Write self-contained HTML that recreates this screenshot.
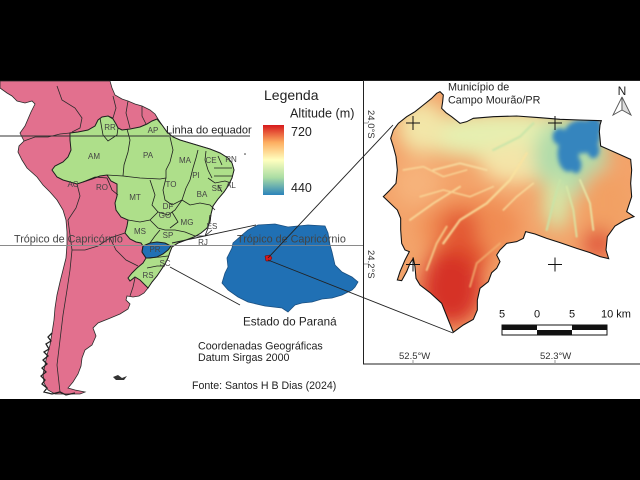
<!DOCTYPE html>
<html><head><meta charset="utf-8"><style>
html,body{margin:0;padding:0;background:#000;}
svg{display:block;}
text{font-family:"Liberation Sans",Arial,sans-serif;}
</style></head><body>
<svg width="640" height="480" viewBox="0 0 640 480" xmlns="http://www.w3.org/2000/svg">
<defs>
 <linearGradient id="leg" x1="0" y1="0" x2="0" y2="1">
  <stop offset="0" stop-color="#d7191c"/>
  <stop offset="0.25" stop-color="#fdae61"/>
  <stop offset="0.5" stop-color="#ffffbf"/>
  <stop offset="0.75" stop-color="#abdda4"/>
  <stop offset="1" stop-color="#2b83ba"/>
 </linearGradient>
 <clipPath id="mclip"><polygon points="240,65 250,75 248,95 245,115 258,128 275,140 300,160 320,155 340,145 400,140 470,138 540,143 600,148 660,150 724,152 720,165 718,185 720,205 722,228 760,245 812,268 815,300 812,340 815,380 805,410 800,425 822,440 795,450 765,468 742,500 738,540 746,566 720,560 690,548 650,535 600,518 560,505 525,492 497,485 490,505 470,515 440,520 420,540 410,555 420,575 410,595 395,608 385,635 360,655 352,690 352,720 340,748 310,765 280,787 265,750 245,700 210,668 180,645 168,625 165,590 160,565 150,580 140,605 125,632 112,630 120,605 135,570 148,545 135,540 125,520 122,480 122,445 112,420 70,380 90,360 108,340 112,300 108,260 100,230 92,205 100,180 115,160 140,140 165,125 190,105 215,85 230,70"/></clipPath>
 <filter id="bl" x="-50%" y="-50%" width="200%" height="200%"><feGaussianBlur stdDeviation="28"/></filter>
 <filter id="bl2" x="-30%" y="-30%" width="160%" height="160%"><feGaussianBlur stdDeviation="6"/></filter>
 <filter id="bl3" x="-20%" y="-20%" width="140%" height="140%"><feGaussianBlur stdDeviation="2.5"/></filter>
</defs>
<rect width="640" height="480" fill="#000"/>
<rect x="0" y="81" width="640" height="318" fill="#fff"/>

<!-- ================= LEFT MAP ================= -->
<polygon fill="#e2708e" stroke="#2a2a2a" stroke-width="0.8" points="0,81 55,81 110,81 112,88 115,95 122,99 128,101 135,104 142,106 150,110 155,114 158,119 162,125 167,132 173,137 180,140 190,143 200,146 210,149 220,153 228,158 232,163 234,170 232,178 228,186 224,192 218,199 213,206 211,214 210,222 207,228 201,233 194,237 186,240 178,243 172,247 170,252 168,258 165,264 161,270 157,276 152,282 148,288 144,293 139,296 133,297 127,296 126,300 130,304 128,309 120,314 108,319 98,323 93,328 96,336 92,345 85,350 82,358 81,366 78,374 73,382 68,388 75,390 85,392 80,394 65,394 55,394 48,390 44,383 43,374 45,365 47,355 50,345 52,333 54,320 55,308 57,295 60,282 63,270 66,258 67,245 67,232 66,220 63,210 57,200 50,192 43,185 37,177 27,168 22,160 18,152 19,146 24,141 20,133 25,126 28,119 31,112 35,104 32,101 25,103 17,101 12,96 7,93 0,88"/>
<g fill="none" stroke="#2a2a2a" stroke-width="0.8">
 <path d="M57,86 L62,100 L75,108 L82,118 L80,128 L72,132"/>
 <path d="M113,96 L116,108 L113,118 L108,116"/>
 <path d="M128,101 L126,113 L130,128"/>
 <path d="M142,106 L142,116 L146,124"/>
 <path d="M24,141 L35,137 L48,137 L60,134 L70,133"/>
 <path d="M77,184 L80,196 L76,208 L68,220"/>
 <path d="M68,220 L70,235 L72,250"/>
 <path d="M72,250 L85,250 L98,246 L110,238 L125,233"/>
 <path d="M110,238 L116,250 L126,260 L138,266"/>
 <path d="M72,250 L70,270 L67,290 L63,315 L60,340 L57,365 L60,392"/>
 <path d="M135,278 L133,287 L130,296"/>
</g>
<path d="M52,333 L48,337 L51,341 L46,344 L49,349 L44,352 L48,356 L43,360 L47,364 L42,368 L46,372 L41,376 L45,380 L42,384 L47,388 L44,392 L52,394 L60,392 L66,395 L75,393" fill="none" stroke="#222" stroke-width="1.3"/>
<path d="M113,377 L118,375 L122,378 L127,376 L124,380 L116,380 Z" fill="#333"/>
<polygon fill="#aedf8a" stroke="#1e1e1e" stroke-width="1" points="162,125 167,132 173,137 180,140 190,143 200,146 210,149 220,153 228,158 232,163 234,170 232,178 228,186 224,192 218,199 213,206 211,214 210,222 207,228 201,233 194,237 186,240 178,243 172,247 170,252 168,258 165,264 161,270 157,276 152,282 148,288 145,285 140,280 135,277 130,281 128,278 132,273 137,268 143,263 146,258 142,252 143,246 141,243 136,242 130,239 125,233 127,226 128,220 121,217 116,210 115,203 117,196 117,184 111,181 107,175 100,176 92,179 83,182 77,184 70,182 63,180 57,177 52,170 55,166 63,162 68,157 71,150 70,140 70,133 78,132 88,130 95,126 98,120 102,117 108,116 113,119 116,124 118,128 122,130 130,129 140,127 147,124 152,121 157,119"/>
<polygon fill="#2070b4" stroke="#1e1e1e" stroke-width="1" points="143,246 150,243 157,242 165,243 171,246 168,250 163,254 157,257 150,258 146,258 142,252"/>
<g fill="none" stroke="#1e1e1e" stroke-width="0.8">
 <path d="M127,129 L130,140 L128,152 L124,165 L123,176"/>
 <path d="M107,175 L123,176 L140,178 L160,179 L166,178"/>
 <path d="M170,137 L173,150 L170,162 L166,170 L166,178"/>
 <path d="M198,150 L196,158 L193,168 L190,180 L186,188"/>
 <path d="M206,151 L205,160 L208,170 L212,178"/>
 <path d="M218,156 L222,165 M214,168 L232,168 M214,176 L233,176"/>
 <path d="M208,178 L215,183 L225,181 L231,183 M218,185 L222,192"/>
 <path d="M166,178 L163,190 L165,200 L172,205 L182,200 L186,188"/>
 <path d="M182,200 L190,205 L200,203 L210,205 L215,210"/>
 <path d="M150,180 L155,195 L152,205 L158,212 L150,220 L140,222 L128,220"/>
 <path d="M158,212 L168,215 L175,210 L182,200 M172,212 L178,222 L170,228"/>
 <path d="M150,220 L158,228 L165,230 L175,230 L185,232 L195,236 L205,236 L212,230"/>
 <path d="M160,230 L155,236 L150,243"/>
 <path d="M210,215 L208,228 L205,236"/>
 <path d="M83,182 L95,177 L107,178 L112,190 L118,195"/>
 <path d="M100,118 L103,135 L108,141 L117,135 L118,128"/>
 <path d="M146,258 L160,257 L168,256 M147,268 L157,266 L165,266"/>
</g>
<g font-size="8" fill="#444" text-anchor="middle">
 <text x="110" y="130">RR</text><text x="153" y="133">AP</text>
 <text x="94" y="159">AM</text><text x="148" y="158">PA</text>
 <text x="185" y="163">MA</text><text x="211" y="163">CE</text>
 <text x="231" y="162">RN</text><text x="196" y="178">PI</text>
 <text x="171" y="187">TO</text><text x="202" y="197">BA</text>
 <text x="73" y="187">AC</text><text x="102" y="190">RO</text>
 <text x="135" y="200">MT</text><text x="168" y="209">DF</text>
 <text x="165" y="218">GO</text><text x="187" y="225">MG</text>
 <text x="212" y="229">ES</text><text x="140" y="234">MS</text>
 <text x="168" y="238">SP</text><text x="155" y="252">PR</text>
 <text x="165" y="266">SC</text><text x="148" y="278">RS</text>
 <text x="217" y="191">SE</text><text x="231" y="188">AL</text>
 <text x="203" y="245">RJ</text>
</g>

<line x1="0" y1="136" x2="250" y2="136" stroke="#333" stroke-width="1"/>
<text x="166" y="133.5" font-size="11" fill="#222">Linha do equador</text>
<line x1="0" y1="245.5" x2="363" y2="245.5" stroke="#8a8a8a" stroke-width="1"/>
<text x="14" y="242.5" font-size="10.8" fill="#444">Trópico de Capricórnio</text>
<circle cx="245" cy="154" r="0.8" fill="#333"/>

<line x1="172" y1="243" x2="256" y2="225" stroke="#222" stroke-width="0.9"/>
<line x1="170" y1="267" x2="240" y2="305" stroke="#222" stroke-width="0.9"/>

<!-- ================= PARANA ================= -->
<polygon fill="#2070b4" stroke="#1a4f80" stroke-width="0.8" points="248,230 258,225 275,224 288,227 308,225 325,226 328,233 330,245 332,252 335,265 342,272 348,275 352,277 358,282 355,287 352,290 348,292 342,295 332,298 322,299 312,302 302,303 295,305 288,312 282,308 265,306 248,302 238,297 228,290 222,283 225,273 228,267 227,258 232,248 233,243 242,235"/>
<line x1="0" y1="245.5" x2="363" y2="245.5" stroke="#8a8a8a" stroke-width="1" opacity="0.7"/>
<text x="237" y="242.5" font-size="10.8" fill="#444">Trópico de Capricórnio</text>
<path d="M265,256 L270,255 L272,258 L270,261 L266,261 Z" fill="#d7191c" stroke="#600" stroke-width="0.5"/>
<line x1="268" y1="258" x2="393" y2="125" stroke="#222" stroke-width="0.9"/>
<line x1="268" y1="260" x2="453" y2="333" stroke="#222" stroke-width="0.9"/>
<text x="243" y="325.7" font-size="11.7" fill="#222">Estado do Paraná</text>

<text x="198" y="349.5" font-size="10.7" fill="#222">Coordenadas Geográficas</text>
<text x="198" y="361" font-size="10.7" fill="#222">Datum Sirgas 2000</text>
<text x="192" y="389" font-size="10.6" fill="#222">Fonte: Santos H B Dias (2024)</text>

<!-- ================= LEGEND ================= -->
<text x="264" y="100" font-size="14" fill="#222">Legenda</text>
<text x="290" y="117.5" font-size="12.6" fill="#222">Altitude (m)</text>
<rect x="263" y="125" width="21" height="70" fill="url(#leg)"/>
<text x="291" y="136" font-size="12.5" fill="#222">720</text>
<text x="291" y="192" font-size="12.5" fill="#222">440</text>

<!-- ================= RIGHT PANEL ================= -->
<rect x="363.5" y="80.5" width="280" height="283.5" fill="none" stroke="#222" stroke-width="1"/>
<text x="448" y="90.7" font-size="10.8" fill="#222">Município de</text>
<text x="448" y="103.3" font-size="10.8" fill="#222">Campo Mourão/PR</text>

<g transform="translate(360 70) scale(0.33333)">
 <g clip-path="url(#mclip)">
  <rect x="50" y="50" width="800" height="760" fill="#f3a36a"/>
  <g filter="url(#bl)">
   <ellipse cx="440" cy="195" rx="300" ry="70" fill="#e6efb0"/>
   <ellipse cx="185" cy="170" rx="70" ry="80" fill="#f2e6a8"/>
   <ellipse cx="170" cy="340" rx="70" ry="70" fill="#f6b27a"/>
   <ellipse cx="470" cy="280" rx="110" ry="60" fill="#f4e4a8"/>
   <ellipse cx="630" cy="260" rx="110" ry="120" fill="#b0dcaa"/>
   <ellipse cx="590" cy="400" rx="40" ry="80" fill="#d4e8a8"/>
   <ellipse cx="730" cy="400" rx="70" ry="100" fill="#f2a064"/>
   <ellipse cx="330" cy="470" rx="150" ry="90" fill="#f08c52"/>
   <ellipse cx="300" cy="470" rx="60" ry="50" fill="#e35a36"/>
   <ellipse cx="300" cy="560" rx="90" ry="55" fill="#e2532f"/>
   <ellipse cx="275" cy="655" rx="90" ry="110" fill="#d63228"/>
   <ellipse cx="715" cy="520" rx="45" ry="45" fill="#e0553a"/>
  </g>
  <g filter="url(#bl3)" fill="none" stroke-linecap="round" opacity="0.8">
   <path d="M250,520 L300,450 L380,400 L450,330 L500,250" stroke="#f9e3a0" stroke-width="7"/>
   <path d="M200,600 L230,520 L260,470" stroke="#f7d590" stroke-width="6"/>
   <path d="M330,650 L350,580 L420,520" stroke="#f2b070" stroke-width="6"/>
   <path d="M150,450 L220,400 L300,350" stroke="#f9e0a0" stroke-width="6"/>
   <path d="M130,300 L190,290 L250,320 L320,300" stroke="#f9dc9c" stroke-width="5"/>
   <path d="M180,380 L250,360 L330,380 L400,350" stroke="#f9dc9c" stroke-width="5"/>
   <path d="M560,480 L580,400 L600,330" stroke="#c8e4a8" stroke-width="7"/>
   <path d="M650,500 L640,420 L620,350" stroke="#d8eaa8" stroke-width="6"/>
   <path d="M700,480 L690,400 L660,330" stroke="#e8eeae" stroke-width="6"/>
   <path d="M400,240 L480,200 L520,160" stroke="#c6e4a8" stroke-width="7"/>
   <path d="M220,300 L300,280 L380,300" stroke="#f8e0a4" stroke-width="6"/>
   <path d="M430,420 L470,380 L520,340" stroke="#f9e0a0" stroke-width="5"/>
  </g>
  <g filter="url(#bl2)" fill="#3585be">
   <ellipse cx="665" cy="200" rx="55" ry="50"/>
   <ellipse cx="700" cy="172" rx="25" ry="30"/>
   <ellipse cx="625" cy="250" rx="32" ry="55"/>
   <ellipse cx="600" cy="200" rx="22" ry="25"/>
   <ellipse cx="648" cy="285" rx="16" ry="25"/>
   <ellipse cx="700" cy="240" rx="18" ry="25"/>
  </g>
 </g>
 <polygon fill="none" stroke="#111" stroke-width="3.2" points="240,65 250,75 248,95 245,115 258,128 275,140 300,160 320,155 340,145 400,140 470,138 540,143 600,148 660,150 724,152 720,165 718,185 720,205 722,228 760,245 812,268 815,300 812,340 815,380 805,410 800,425 822,440 795,450 765,468 742,500 738,540 746,566 720,560 690,548 650,535 600,518 560,505 525,492 497,485 490,505 470,515 440,520 420,540 410,555 420,575 410,595 395,608 385,635 360,655 352,690 352,720 340,748 310,765 280,787 265,750 245,700 210,668 180,645 168,625 165,590 160,565 150,580 140,605 125,632 112,630 120,605 135,570 148,545 135,540 125,520 122,480 122,445 112,420 70,380 90,360 108,340 112,300 108,260 100,230 92,205 100,180 115,160 140,140 165,125 190,105 215,85 230,70"/>
</g>

<g stroke="#111" stroke-width="1">
 <path d="M406,123 H420 M413,116 V130"/>
 <path d="M548,123 H562 M555,116 V130"/>
 <path d="M406,264.5 H420 M413,257.5 V271.5"/>
 <path d="M548,264.5 H562 M555,257.5 V271.5"/>
</g>
<g stroke="#999" stroke-width="1">
 <path d="M364,123 H368 M364,264 H368 M413,360 V364 M555,360 V364"/>
</g>
<text transform="translate(368 110) rotate(90)" font-size="9.5" fill="#333">24.0°S</text>
<text transform="translate(368 250) rotate(90)" font-size="9.5" fill="#333">24.2°S</text>
<text x="399" y="359" font-size="9.5" fill="#333">52.5°W</text>
<text x="540" y="359" font-size="9.5" fill="#333">52.3°W</text>

<text x="622" y="95" font-size="12" fill="#222" text-anchor="middle">N</text>
<path d="M622,97 L613,115 L622,110 Z" fill="#fff" stroke="#555" stroke-width="0.9"/>
<path d="M622,97 L631,115 L622,110 Z" fill="#ddd" stroke="#555" stroke-width="0.9"/>

<g font-size="11" fill="#111" text-anchor="middle">
 <text x="502" y="317.5">5</text><text x="537" y="317.5">0</text>
 <text x="572" y="317.5">5</text><text x="616" y="317.5">10 km</text>
</g>
<rect x="502" y="325" width="105" height="10" fill="#fff" stroke="#111" stroke-width="1"/>
<rect x="502" y="325" width="35" height="5" fill="#111"/>
<rect x="572" y="325" width="35" height="5" fill="#111"/>
<rect x="537" y="330" width="35" height="5" fill="#111"/>
</svg>
</body></html>
